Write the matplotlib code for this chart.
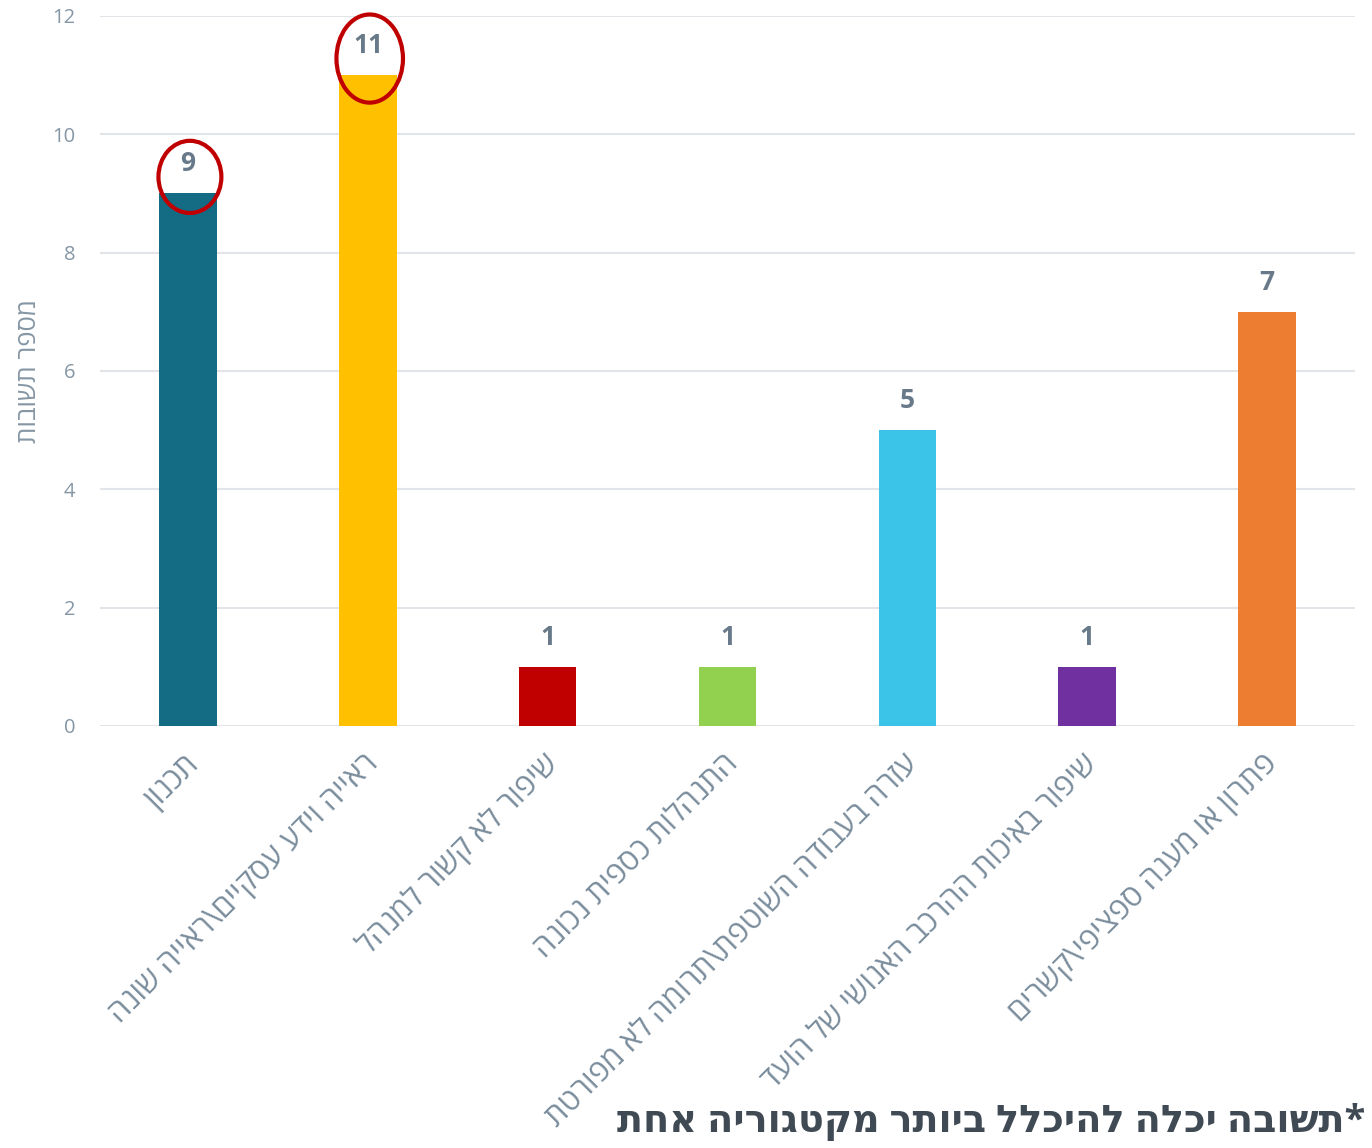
import matplotlib
matplotlib.use("Agg")
import matplotlib.pyplot as plt
from matplotlib.patches import Ellipse
from matplotlib.transforms import ScaledTranslation

plt.rcParams['font.family'] = ['Open Sans', 'DejaVu Sans']

# קטגוריות התשובות (בסדר לוגי, מימין לשמאל)
categories = [
    "תכנון",
    "ראייה וידע עסקיים\\ראייה שונה",
    "שיפור לא קשור למנהל",
    "התנהלות כספית נכונה",
    "עזרה בעבודה השוטפת\\תרומה לא מפורטת",
    "שיפור באיכות ההרכב האנושי של הועד",
    "פתרון או מענה ספציפי\\קשרים",
]
counts = [9, 11, 1, 1, 5, 1, 7]
bar_colors = ["#136c84", "#ffc000", "#c00000", "#92d050", "#3bc4e8", "#7030a0", "#ed7d31"]
highlighted = [0, 1]  # עמודות שמסומנות בעיגול אדום

y_label = "מספר תשובות"
footnote = "*תשובה יכלה להיכלל ביותר מקטגוריה אחת"


def rtl(s):
    # matplotlib לא מטפל בכיווניות, הופכים ידנית
    return s[::-1]


fig = plt.figure(figsize=(13.72, 11.48), dpi=100)
ax = fig.add_axes([0.0729, 0.3676, 0.9147, 0.6185])

x = list(range(len(categories)))
ax.bar(x, counts, width=0.32, color=bar_colors, zorder=3)

for xi, v in zip(x, counts):
    ax.text(xi, v + 0.27, str(v), ha='center', va='bottom', fontsize=19,
            fontweight='bold', color='#687a8a', zorder=4)

# עיגולים אדומים סביב התוויות של הערכים הגבוהים
for i in highlighted:
    v = counts[i]
    h = 1.22 if v < 10 else 1.49
    w = 0.35 if v < 10 else 0.37
    ax.add_patch(Ellipse((i + 0.01, v + 0.28), w, h, fill=False,
                         edgecolor='#c00000', linewidth=3, zorder=5, clip_on=False))

ax.set_xlim(-0.49, 6.49)
ax.set_ylim(0, 12)
ax.set_yticks(range(0, 13, 2))
ax.grid(axis='y', color='#e1e5ea', linewidth=1.5, zorder=0)
for s in ax.spines.values():
    s.set_visible(False)
ax.tick_params(axis='y', length=0, pad=18, labelsize=14.5, labelcolor='#8596a5')
ax.tick_params(axis='x', length=0, pad=24, labelsize=22, labelcolor='#7a8d9c')

ax.set_xticks(x)
ax.set_xticklabels([rtl(c) for c in categories], rotation=45, ha='right',
                   va='center', rotation_mode='anchor')
shift = ScaledTranslation(6 / 100, 0, fig.dpi_scale_trans)
for lbl in ax.get_xticklabels():
    lbl.set_transform(lbl.get_transform() + shift)

ax.set_ylabel(rtl(y_label), fontsize=18.5, color='#8596a5')
ax.yaxis.set_label_coords(-0.046, 0.5)

fig.text(0.995, 0.006, rtl(footnote), ha='right', va='bottom', fontsize=27.5,
         fontweight='bold', color='#3f4a54')

fig.savefig("out.png", dpi=100, facecolor='white')
